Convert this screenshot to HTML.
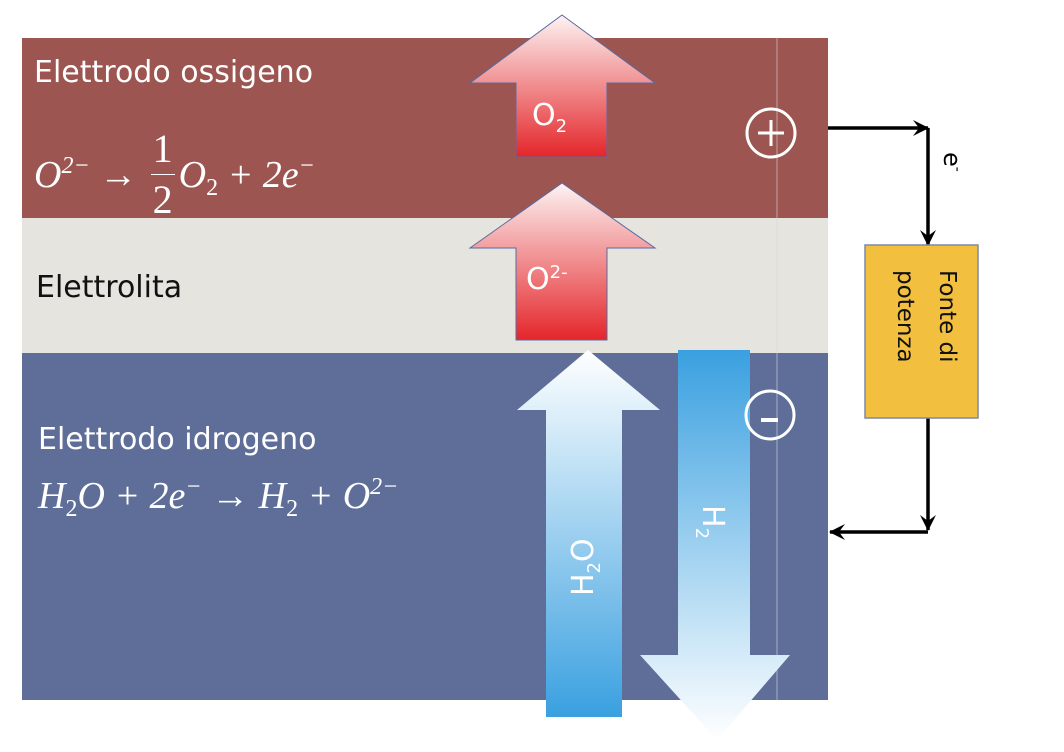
<!DOCTYPE html>
<html><head><meta charset="utf-8"><style>
body{margin:0;width:1064px;height:752px;background:#fff;overflow:hidden;position:relative;font-family:"Liberation Sans",sans-serif}
.t{position:absolute;font-family:"DejaVu Sans","Liberation Sans",sans-serif;color:#fff;font-size:30px;white-space:nowrap}
.m{position:absolute;font-family:"Liberation Serif",serif;font-style:italic;color:#fff;font-size:38px;white-space:nowrap;line-height:40px}
.m sup{font-size:24px;vertical-align:14px;line-height:0}
.m sub{font-size:24px;font-style:normal;vertical-align:-8px;line-height:0}
.fr{display:inline-block;vertical-align:middle;text-align:center;font-style:normal;font-size:40px;line-height:50px;margin:0 4px;position:relative;top:-4px}
.fr span{display:block;padding:0 2px}
.fr span:first-child{border-bottom:1px solid #fff}
</style></head><body>
<svg width="1064" height="752" style="position:absolute;left:0;top:0">
<defs>
<linearGradient id="rd" x1="0" y1="0" x2="0" y2="1"><stop offset="0" stop-color="#fdf3f3"/><stop offset="1" stop-color="#e4262a"/></linearGradient>
<linearGradient id="bu" x1="0" y1="0" x2="0" y2="1"><stop offset="0" stop-color="#ffffff"/><stop offset="1" stop-color="#3aa0e0"/></linearGradient>
<linearGradient id="bd" x1="0" y1="0" x2="0" y2="1"><stop offset="0" stop-color="#3aa0e0"/><stop offset="1" stop-color="#ffffff"/></linearGradient>
<marker id="ah" markerWidth="16" markerHeight="16" refX="15" refY="8" orient="auto" markerUnits="userSpaceOnUse"><path d="M0,0 L16,8 L0,16 L6,8z" fill="#000"/></marker>
</defs>
<rect x="22" y="38" width="806" height="180" fill="#9c5550"/>
<rect x="22" y="218" width="806" height="135" fill="#e6e4df"/>
<rect x="22" y="353" width="806" height="347" fill="#5e6e98"/>
<line x1="777" y1="38" x2="777" y2="700" stroke="#d8d8e0" stroke-width="1" opacity=".6"/>
<path d="M562,15 L655,83 L607,83 L607,157 L516,157 L516,83 L470,83Z" fill="url(#rd)" stroke="#5a6aa0" stroke-width="1"/>
<path d="M562,183 L655,248 L607,248 L607,340 L516,340 L516,248 L470,248Z" fill="url(#rd)" stroke="#5a6aa0" stroke-width="1"/>
<path d="M588,350 L660,410 L622,410 L622,717 L546,717 L546,410 L517,410Z" fill="url(#bu)"/>
<path d="M678,350 L750,350 L750,655 L790,655 L717,740 L640,655 L678,655Z" fill="url(#bd)"/>
<circle cx="771" cy="133" r="24" fill="none" stroke="#fff" stroke-width="3"/>
<path d="M758,133h26M771,120v26" stroke="#fff" stroke-width="3"/>
<circle cx="770" cy="415" r="24" fill="none" stroke="#fff" stroke-width="3"/>
<path d="M761,420h17" stroke="#fff" stroke-width="4"/>
<g stroke="#000" stroke-width="3.5" fill="none">
<path d="M828,128 H928" marker-end="url(#ah)"/>
<path d="M928,128 V245" marker-end="url(#ah)"/>
<path d="M928,418 V530" marker-end="url(#ah)"/>
<path d="M928,532 H830" marker-end="url(#ah)"/>
</g>
<rect x="865" y="245" width="113" height="173" fill="#f2c03e" stroke="#7a8aa8" stroke-width="1.5"/>
</svg>
<div class="t" style="left:34px;top:55px">Elettrodo ossigeno</div>
<div class="m" style="left:34px;top:128px">O<sup>2−</sup>&nbsp;→&nbsp;<span class="fr"><span>1</span><span>2</span></span>O<sub>2</sub>&nbsp;+&nbsp;2<i>e</i><sup>−</sup></div>
<div class="t" style="left:36px;top:270px;color:#111">Elettrolita</div>
<div class="t" style="left:38px;top:422px">Elettrodo idrogeno</div>
<div class="m" style="left:38px;top:476px">H<sub>2</sub>O&nbsp;+&nbsp;2<i>e</i><sup>−</sup>&nbsp;→&nbsp;H<sub>2</sub>&nbsp;+&nbsp;O<sup>2−</sup></div>
<div class="t" style="left:532px;top:98px;font-size:30px">O<sub style="font-size:18px">2</sub></div>
<div class="t" style="left:526px;top:262px;font-size:30px">O<sup style="font-size:18px">2-</sup></div>
<div class="t" style="left:566px;top:596px;font-size:30px;transform:rotate(-90deg);transform-origin:left top">H<sub style="font-size:18px">2</sub>O</div>
<div class="t" style="left:730px;top:505px;font-size:30px;transform:rotate(90deg);transform-origin:left top">H<sub style="font-size:18px">2</sub></div>
<div class="t" style="left:966px;top:152px;color:#000;font-size:24px;transform:rotate(90deg);transform-origin:left top">e<sup style="font-size:14px">-</sup></div>
<div style="position:absolute;left:968px;top:270px;transform:rotate(90deg);transform-origin:left top;font-family:'DejaVu Sans',sans-serif;font-size:23px;line-height:42px;color:#111;white-space:nowrap">Fonte di<br>potenza</div>
</body></html>
